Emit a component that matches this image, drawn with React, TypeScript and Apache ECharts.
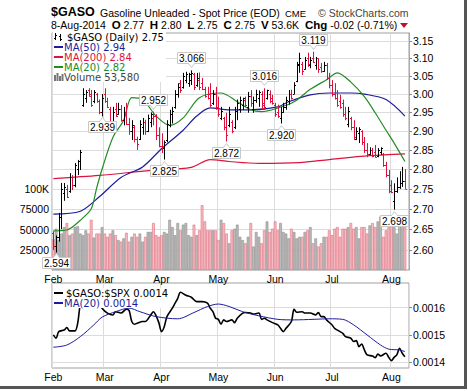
import React, { useEffect, useRef } from 'react';
import * as echarts from 'echarts';

// ---------- data ----------
const FIRST_DAY = '2014-02-03';
const LAST_DAY = '2014-08-08';
const HOLIDAYS = ['2014-02-17', '2014-04-18', '2014-05-26', '2014-07-04'];
const MONTH_NAMES = ['Jan', 'Feb', 'Mar', 'Apr', 'May', 'Jun', 'Jul', 'Aug', 'Sep', 'Oct', 'Nov', 'Dec'];

const opens = [
  2.64, 2.61, 2.63, 2.68, 2.74, 2.75, 2.745, 2.78, 2.76, 2.8,
  2.82, 2.97, 2.99, 3.01, 3.0, 2.98, 3.0, 2.98, 2.95, 3.0,
  2.98, 2.96, 2.925, 2.96, 2.945, 2.96, 2.93, 2.95, 2.92, 2.9,
  2.91, 2.88, 2.88, 2.91, 2.925, 2.9, 2.925, 2.935, 2.94, 2.89,
  2.86, 2.855, 2.875, 2.915, 2.945, 2.965, 3.0, 3.03, 3.02, 3.04,
  3.03, 3.04, 3.055, 3.025, 3.04, 3.03, 3.015, 3.0, 3.0, 2.975,
  3.0, 2.965, 2.935, 2.935, 2.91, 2.915, 2.925, 2.91, 2.955, 2.96,
  2.97, 2.985, 2.965, 2.995, 2.96, 2.985, 2.99, 3.0, 2.975, 2.99,
  3.0, 2.99, 2.97, 2.95, 2.935, 2.95, 2.965, 2.98, 3.0, 3.0,
  3.035, 3.08, 3.085, 3.07, 3.1, 3.08, 3.1, 3.08, 3.1, 3.075,
  3.065, 3.08, 3.045, 3.025, 3.0, 2.99, 2.98, 2.975, 2.945, 2.92,
  2.935, 2.91, 2.88, 2.895, 2.9, 2.87, 2.85, 2.84, 2.85, 2.845,
  2.835, 2.845, 2.84, 2.81, 2.785, 2.76, 2.72, 2.745, 2.755, 2.765,
  2.77,
];
const highs = [
  2.645, 2.635, 2.69, 2.765, 2.765, 2.76, 2.79, 2.785, 2.816, 2.824,
  2.85, 3.016, 3.011, 3.016, 3.011, 3.011, 3.003, 2.985, 3.0, 3.016,
  2.99, 2.965, 2.965, 2.976, 2.976, 2.97, 2.965, 2.976, 2.935, 2.929,
  2.916, 2.885, 2.929, 2.935, 2.93, 2.944, 2.95, 2.952, 2.945, 2.91,
  2.894, 2.875, 2.929, 2.957, 2.965, 3.011, 3.03, 3.039, 3.059, 3.062,
  3.059, 3.066, 3.059, 3.059, 3.06, 3.045, 3.02, 3.02, 3.03, 3.011,
  3.02, 2.993, 2.965, 2.938, 2.949, 2.965, 2.929, 2.965, 2.985, 2.993,
  2.99, 2.993, 3.006, 3.011, 2.993, 3.012, 3.01, 3.008, 3.016, 3.012,
  3.01, 2.998, 2.976, 2.971, 2.965, 2.976, 2.993, 3.011, 3.012, 3.033,
  3.09, 3.116, 3.09, 3.104, 3.116, 3.104, 3.119, 3.104, 3.1, 3.087,
  3.09, 3.087, 3.059, 3.039, 3.03, 3.011, 2.998, 2.985, 2.965, 2.965,
  2.938, 2.929, 2.91, 2.91, 2.902, 2.884, 2.868, 2.857, 2.855, 2.863,
  2.855, 2.857, 2.842, 2.819, 2.798, 2.772, 2.764, 2.779, 2.795, 2.806,
  2.8,
];
const lows = [
  2.6, 2.594, 2.62, 2.65, 2.72, 2.727, 2.74, 2.747, 2.754, 2.785,
  2.798, 2.965, 2.976, 2.993, 2.965, 2.975, 2.976, 2.945, 2.939, 2.976,
  2.962, 2.91, 2.921, 2.938, 2.944, 2.925, 2.915, 2.916, 2.89, 2.876,
  2.87, 2.85, 2.876, 2.89, 2.89, 2.897, 2.91, 2.915, 2.876, 2.857,
  2.842, 2.825, 2.87, 2.91, 2.92, 2.96, 2.99, 3.003, 3.015, 3.03,
  3.02, 3.025, 3.011, 3.02, 3.011, 3.011, 2.99, 2.985, 2.965, 2.97,
  2.957, 2.938, 2.929, 2.902, 2.872, 2.91, 2.894, 2.905, 2.929, 2.949,
  2.957, 2.965, 2.949, 2.965, 2.949, 2.976, 2.965, 2.957, 2.957, 2.985,
  2.975, 2.971, 2.938, 2.935, 2.92, 2.949, 2.957, 2.971, 2.985, 3.0,
  3.033, 3.059, 3.053, 3.068, 3.076, 3.072, 3.087, 3.068, 3.059, 3.059,
  3.062, 3.039, 3.016, 2.993, 2.985, 2.965, 2.96, 2.938, 2.929, 2.91,
  2.902, 2.876, 2.876, 2.868, 2.863, 2.842, 2.831, 2.837, 2.831, 2.83,
  2.831, 2.837, 2.806, 2.779, 2.739, 2.739, 2.698, 2.74, 2.75, 2.755,
  2.75,
];
const closes = [
  2.61, 2.63, 2.68, 2.75, 2.755, 2.73, 2.78, 2.76, 2.81, 2.82,
  2.845, 3.0, 3.005, 2.995, 2.97, 3.005, 2.98, 2.95, 2.99, 2.98,
  2.965, 2.92, 2.95, 2.94, 2.96, 2.93, 2.95, 2.92, 2.9, 2.915,
  2.88, 2.865, 2.92, 2.925, 2.9, 2.935, 2.945, 2.94, 2.89, 2.86,
  2.855, 2.87, 2.92, 2.945, 2.955, 3.0, 3.02, 3.01, 3.05, 3.055,
  3.057, 3.06, 3.02, 3.045, 3.02, 3.015, 2.995, 2.99, 2.97, 3.0,
  2.965, 2.945, 2.955, 2.91, 2.89, 2.945, 2.9, 2.955, 2.975, 2.985,
  2.988, 2.97, 2.995, 2.975, 2.985, 3.0, 3.005, 2.97, 2.965, 3.01,
  2.98, 2.975, 2.945, 2.94, 2.95, 2.965, 2.985, 3.0, 2.99, 3.025,
  3.085, 3.1, 3.065, 3.095, 3.085, 3.095, 3.09, 3.1, 3.07, 3.065,
  3.08, 3.045, 3.025, 3.0, 2.99, 2.97, 2.965, 2.945, 2.935, 2.955,
  2.91, 2.885, 2.9, 2.905, 2.87, 2.85, 2.84, 2.85, 2.835, 2.832,
  2.85, 2.855, 2.81, 2.785, 2.745, 2.742, 2.745, 2.755, 2.765, 2.77,
  2.75,
];
const volumes = [
  38000, 51000, 37000, 45000, 53000, 58000, 43000, 45000, 53000, 54000,
  45000, 43000, 49000, 45000, 62000, 40000, 45000, 45000, 53000, 45000,
  41000, 45000, 49000, 43000, 37000, 35000, 39000, 46000, 35000, 41000,
  45000, 41000, 45000, 35000, 41000, 47000, 47000, 58000, 43000, 41000,
  43000, 47000, 45000, 62000, 53000, 43000, 58000, 49000, 56000, 58000,
  43000, 41000, 56000, 43000, 49000, 80000, 60000, 49000, 49000, 49000,
  49000, 37000, 62000, 58000, 45000, 33000, 49000, 51000, 56000, 41000,
  37000, 33000, 41000, 58000, 29000, 47000, 41000, 33000, 49000, 60000,
  47000, 51000, 60000, 49000, 58000, 47000, 45000, 39000, 51000, 47000,
  39000, 41000, 41000, 47000, 49000, 53000, 33000, 39000, 29000, 33000,
  41000, 41000, 49000, 43000, 51000, 53000, 41000, 51000, 51000, 53000,
  58000, 51000, 53000, 39000, 53000, 53000, 45000, 55000, 58000, 53000,
  60000, 66000, 41000, 49000, 53000, 60000, 53000, 45000, 60000, 66000,
  53580,
];

const ma20Idx = [0, 5, 10, 14, 16, 18, 22, 26, 29, 33, 38, 43, 48, 54, 62, 68, 73, 77, 83, 89, 95, 101, 105, 110, 115, 119, 123, 126, 130];
const ma20Val = [2.646, 2.648, 2.672, 2.7, 2.752, 2.8, 2.883, 2.929, 2.99, 2.985, 2.94, 2.915, 2.935, 2.99, 3.003, 2.979, 2.957, 2.952, 2.962, 2.979, 3.013, 3.04, 3.059, 3.033, 2.993, 2.949, 2.902, 2.868, 2.82];
const ma50Idx = [0, 10, 17, 25, 33, 40, 48, 53, 58, 65, 73, 83, 87, 95, 102, 110, 115, 123, 130];
const ma50Val = [2.687, 2.694, 2.73, 2.779, 2.806, 2.853, 2.902, 2.94, 2.962, 2.957, 2.957, 2.965, 2.979, 2.998, 3.003, 3.003, 3.0, 2.985, 2.94];
const ma200Idx = [0, 17, 36, 51, 58, 65, 76, 91, 102, 117, 130];
const ma200Val = [2.776, 2.784, 2.797, 2.805, 2.825, 2.82, 2.815, 2.817, 2.825, 2.835, 2.84];

const ratioIdx = [0, 1, 2, 4, 5, 6, 8, 9, 10, 11, 12, 14, 16, 18, 20, 22, 23, 25, 27, 28, 29, 30, 31, 33, 34, 36, 37, 38, 39, 40, 41, 42, 44, 45, 46, 47, 49, 51, 53, 55, 57, 58, 59, 60, 61, 62, 63, 64, 66, 67, 68, 70, 71, 73, 74, 76, 77, 78, 79, 81, 83, 84, 85, 86, 88, 89, 90, 92, 93, 95, 97, 98, 99, 100, 101, 103, 104, 106, 107, 108, 110, 111, 112, 113, 114, 115, 116, 118, 119, 120, 121, 123, 124, 125, 126, 127, 128, 129, 130];
const ratioVal = [0.0015, 0.001488, 0.001512, 0.001518, 0.001527, 0.001515, 0.001515, 0.001543, 0.001616, 0.00164, 0.00165, 0.00166, 0.00163, 0.001598, 0.00158, 0.001573, 0.001585, 0.00158, 0.001594, 0.00159, 0.001549, 0.001539, 0.001543, 0.001549, 0.001549, 0.001573, 0.001585, 0.00157, 0.001545, 0.001512, 0.00153, 0.001567, 0.001598, 0.001616, 0.001634, 0.001656, 0.001645, 0.001638, 0.001622, 0.001622, 0.001616, 0.001598, 0.001585, 0.001561, 0.001557, 0.001539, 0.001555, 0.001549, 0.001555, 0.001545, 0.001561, 0.00158, 0.001582, 0.00158, 0.001576, 0.00158, 0.001557, 0.001561, 0.001555, 0.001545, 0.001537, 0.001524, 0.001512, 0.001524, 0.001549, 0.001594, 0.001583, 0.001585, 0.00158, 0.00158, 0.001573, 0.001582, 0.001567, 0.001567, 0.001555, 0.001537, 0.001524, 0.001512, 0.001506, 0.001494, 0.001488, 0.001476, 0.001479, 0.001457, 0.001467, 0.001445, 0.001427, 0.001423, 0.001417, 0.00143, 0.001423, 0.001433, 0.001418, 0.001406, 0.001418, 0.001427, 0.001451, 0.001433, 0.00142];
const ratioMaIdx = [0, 5, 10, 15, 18, 23, 28, 32, 38, 46, 52, 57, 61, 65, 70, 76, 83, 89, 96, 102, 107, 111, 116, 121, 124, 128, 130];
const ratioMaVal = [0.001455, 0.001463, 0.001494, 0.001537, 0.001565, 0.001585, 0.001598, 0.001585, 0.001567, 0.001559, 0.001582, 0.001604, 0.001613, 0.001604, 0.001585, 0.00157, 0.001557, 0.001555, 0.001557, 0.001559, 0.001557, 0.001537, 0.0015, 0.001463, 0.001448, 0.001445, 0.001439];

const annIdx = [1, 18, 37, 41, 51, 64, 78, 84, 96, 126];
const annVal = [2.594, 2.939, 2.952, 2.825, 3.066, 2.872, 3.016, 2.92, 3.119, 2.698];
const annSide = [-1, -1, 1, -1, 1, -1, 1, -1, 1, -1];

const priceTicks = [2.6, 2.65, 2.7, 2.75, 2.8, 2.85, 2.9, 2.95, 3.0, 3.05, 3.1, 3.15];
const ratioTicks = [0.0014, 0.0015, 0.0016];
const PRICE_MIN = 2.5526;
const PRICE_MAX = 3.173;
const VOL_MAX = 292600;
const RATIO_MIN = 0.001379;
const RATIO_MAX = 0.00169;

// ---------- helpers ----------
function tradingDays(): string[] {
  const out: string[] = [];
  const d = new Date(FIRST_DAY + 'T00:00:00Z');
  const end = new Date(LAST_DAY + 'T00:00:00Z');
  while (d.getTime() <= end.getTime()) {
    const wd = d.getUTCDay();
    const s = d.toISOString().slice(0, 10);
    if (wd !== 0 && wd !== 6 && HOLIDAYS.indexOf(s) < 0) out.push(s);
    d.setUTCDate(d.getUTCDate() + 1);
  }
  return out;
}

const FONT = '"Liberation Sans", Arial, sans-serif';
const VFONT = '"DejaVu Sans", Verdana, sans-serif';
const RED = '#e0103c';
const BLUE = '#1c1c9c';
const GREEN = '#228b22';
const MA200C = '#dc143c';

export default function App() {
  const ref = useRef<HTMLDivElement>(null);
  useEffect(() => {
    if (!ref.current) return;
    const chart = echarts.init(ref.current, undefined, { renderer: 'svg' });
    const dates = tradingDays();
    const cats = [...dates, ''];
    const monthStart = new Set<number>();
    dates.forEach((d, i) => {
      if (i === 0 || d.slice(5, 7) !== dates[i - 1].slice(5, 7)) monthStart.add(i);
    });
    const up = closes.map((c, i) => (i === 0 ? c >= opens[0] : c >= closes[i - 1]));
    const last = closes.length - 1;
    const L = Math.log;

    const xAxisBase = (gi: number) => ({
      type: 'category',
      gridIndex: gi,
      data: cats,
      boundaryGap: true,
      axisLine: { show: false },
      axisTick: { show: false },
      axisLabel: {
        interval: (i: number) => monthStart.has(i),
        formatter: (v: string) => (v ? MONTH_NAMES[parseInt(v.slice(5, 7), 10) - 1] : ''),
        fontSize: 10.5,
        fontFamily: FONT,
        color: '#000',
        margin: 3,
      },
      splitLine: {
        show: true,
        interval: (i: number) => monthStart.has(i),
        lineStyle: { color: '#dcdcdc', width: 1 },
      },
    });

    const lineSeries = (name: string, idx: number[], val: number[], color: string, xi: number, yi: number, width: number, log: boolean) => ({
      type: 'line',
      name,
      xAxisIndex: xi,
      yAxisIndex: yi,
      data: idx.map((k, j) => [k, log ? L(val[j]) : val[j]]),
      showSymbol: false,
      symbol: 'none',
      smooth: 0.3,
      lineStyle: { color, width },
      z: 3,
      silent: true,
    });

    const text = (x: number, y: number, t: string, font: string, fill = '#000', extra: any = {}) => ({
      type: 'text',
      x,
      y,
      z: 100,
      style: {
        text: t,
        font,
        fill,
        align: 'left',
        verticalAlign: 'middle',
        textAlign: 'left',
        textVerticalAlign: 'middle',
        ...extra,
      },
    });
    const LF = `10px ${VFONT}`;
    const rs = (fill: string, padLeft: number) => ({ font: LF, fill, lineHeight: 10, height: 10, padding: [0, 0, 0, padLeft] });

    const mainLegend = [
      `{k|$GASO (Daily) ${closes[last].toFixed(2)}}`,
      `{b|MA(50) ${ma50Val[ma50Val.length - 1].toFixed(2)}}`,
      `{r|MA(200) ${ma200Val[ma200Val.length - 1].toFixed(2)}}`,
      `{g|MA(20) ${ma20Val[ma20Val.length - 1].toFixed(2)}}`,
      `{v|Volume ${volumes[last].toLocaleString('en-US')}}`,
    ].join('\n');
    const lowerLegend = [
      `{k|$GASO:$SPX ${ratioVal[ratioVal.length - 1].toFixed(4)}}`,
      `{b|MA(20) ${ratioMaVal[ratioMaVal.length - 1].toFixed(4)}}`,
    ].join('\n');

    const option: any = {
      animation: false,
      backgroundColor: '#fff',
      grid: [
        { left: 52, top: 33, width: 357, height: 237, show: true, borderColor: '#a0a0a0', borderWidth: 1, backgroundColor: '#fff' },
        { left: 52, top: 283, width: 357, height: 85, show: true, borderColor: '#a0a0a0', borderWidth: 1, backgroundColor: '#fff' },
      ],
      xAxis: [xAxisBase(0), xAxisBase(1)],
      yAxis: [
        {
          type: 'value', gridIndex: 0, position: 'left', min: 0, max: VOL_MAX, interval: 25000,
          axisLine: { show: false }, axisTick: { show: false }, splitLine: { show: false },
          axisLabel: {
            formatter: (v: number) => (v > 0 && v <= 100000 ? (v === 100000 ? '100K' : String(v)) : ''),
            fontSize: 10.5, fontFamily: FONT, color: '#000', margin: 3,
          },
        },
        {
          type: 'value', gridIndex: 0, position: 'right', min: L(PRICE_MIN), max: L(PRICE_MAX),
          axisLine: { show: true, lineStyle: { color: '#a0a0a0', type: 'dotted' } },
          axisTick: { show: true, customValues: priceTicks.map(L), length: 3, lineStyle: { color: '#888' } },
          axisLabel: {
            customValues: priceTicks.map(L),
            formatter: (v: number) => Math.exp(v).toFixed(2),
            fontSize: 10.5, fontFamily: FONT, color: '#000', margin: 4,
          },
          splitLine: { show: true, lineStyle: { color: '#dcdcdc', width: 1 } },
        },
        {
          type: 'value', gridIndex: 1, position: 'right', min: RATIO_MIN, max: RATIO_MAX,
          axisLine: { show: false },
          axisTick: { show: true, customValues: ratioTicks, length: 3, lineStyle: { color: '#888' } },
          axisLabel: {
            customValues: ratioTicks,
            formatter: (v: number) => v.toFixed(4),
            fontSize: 10.5, fontFamily: FONT, color: '#000', margin: 4,
          },
          splitLine: { show: true, lineStyle: { color: '#dcdcdc', width: 1 } },
        },
      ],
      series: [
        {
          type: 'bar',
          name: 'Volume',
          xAxisIndex: 0,
          yAxisIndex: 0,
          barCategoryGap: '0%',
          silent: true,
          z: 1,
          data: volumes.map((v, i) => ({
            value: v,
            itemStyle: up[i]
              ? { color: '#bababa', borderColor: '#8e8e8e', borderWidth: 0.6 }
              : { color: '#f4bcc3', borderColor: '#e07080', borderWidth: 0.6 },
          })),
        },
        lineSeries('MA200', ma200Idx, ma200Val, MA200C, 0, 1, 1.2, true),
        lineSeries('MA50', ma50Idx, ma50Val, BLUE, 0, 1, 1.2, true),
        lineSeries('MA20', ma20Idx, ma20Val, GREEN, 0, 1, 1.2, true),
        {
          type: 'custom',
          name: 'OHLC',
          xAxisIndex: 0,
          yAxisIndex: 1,
          z: 4,
          silent: true,
          data: closes.map((c, i) => [i, L(opens[i]), L(highs[i]), L(lows[i]), L(c), up[i] ? 1 : 0]),
          encode: { x: 0, y: [1, 2, 3, 4] },
          renderItem: (params: any, api: any) => {
            const i = api.value(0);
            const pO = api.coord([i, api.value(1)]);
            const pH = api.coord([i, api.value(2)]);
            const pLo = api.coord([i, api.value(3)]);
            const pC = api.coord([i, api.value(4)]);
            const x = Math.round(pO[0]) + 0.5;
            const color = api.value(5) ? '#000' : RED;
            const yo = Math.round(pO[1]) + 0.5;
            const yc = Math.round(pC[1]) + 0.5;
            return {
              type: 'group',
              children: [
                { type: 'line', shape: { x1: x, y1: pH[1], x2: x, y2: pLo[1] }, style: { stroke: color, lineWidth: 1 } },
                { type: 'line', shape: { x1: x - 1.5, y1: yo, x2: x, y2: yo }, style: { stroke: color, lineWidth: 1 } },
                { type: 'line', shape: { x1: x, y1: yc, x2: x + 1.5, y2: yc }, style: { stroke: color, lineWidth: 1 } },
              ],
            };
          },
        },
        {
          type: 'custom',
          name: 'Annotations',
          xAxisIndex: 0,
          yAxisIndex: 1,
          z: 10,
          silent: true,
          clip: false,
          data: annIdx.map((k, j) => [k, L(annVal[j]), annSide[j]]),
          encode: { x: 0, y: 1 },
          renderItem: (params: any, api: any) => {
            const j = params.dataIndex;
            const p = api.coord([api.value(0), api.value(1)]);
            const side = api.value(2);
            const label = annVal[j].toFixed(3);
            const w = 28;
            const h = 11;
            const cx = Math.round(p[0]) + 0.5;
            const boxY = side > 0 ? Math.round(p[1]) - 7 - h + 0.5 : Math.round(p[1]) + 5 + 0.5;
            const tri = side > 0
              ? [[cx - 3, boxY + h], [cx + 3, boxY + h], [cx, boxY + h + 4]]
              : [[cx - 3, boxY], [cx + 3, boxY], [cx, boxY - 4]];
            return {
              type: 'group',
              children: [
                { type: 'rect', shape: { x: cx - w / 2, y: boxY, width: w, height: h }, style: { fill: '#fff', stroke: '#c8c8c8', lineWidth: 1 } },
                { type: 'polygon', shape: { points: tri }, style: { fill: '#fff', stroke: '#c8c8c8', lineWidth: 1 } },
                { type: 'line', shape: { x1: cx - 2.5, y1: side > 0 ? boxY + h : boxY, x2: cx + 2.5, y2: side > 0 ? boxY + h : boxY }, style: { stroke: '#fff', lineWidth: 1.2 } },
                {
                  type: 'text', x: cx, y: boxY + h / 2 + 0.5,
                  style: { text: label, font: `10px ${FONT}`, fill: '#000', align: 'center', verticalAlign: 'middle', textAlign: 'center', textVerticalAlign: 'middle' },
                },
              ],
            };
          },
        },
        lineSeries('$GASO:$SPX', ratioIdx, ratioVal, '#000', 1, 2, 1.6, false),
        lineSeries('MA(20) ratio', ratioMaIdx, ratioMaVal, BLUE, 1, 2, 1, false),
      ],
      graphic: [
        // header
        text(51, 12, '$GASO', `bold 12.5px ${FONT}`),
        text(100, 13, 'Gasoline Unleaded - Spot Price (EOD)', `10.5px ${FONT}`),
        text(285, 13, 'CME', `9.5px ${FONT}`),
        text(318, 13, '\u00a9 StockCharts.com', `10.5px ${FONT}`, '#444'),
        text(51, 25, `8-Aug-2014  {b|O} ${opens[last].toFixed(2)}  {b|H} ${highs[last].toFixed(2)}  {b|L} ${lows[last].toFixed(2)}  {b|C} ${closes[last].toFixed(2)}  {b|V} 53.6K  {b|Chg} -0.02 (-0.71%)`,
          `10.5px ${FONT}`, '#000', { rich: { b: { font: `bold 11.5px ${FONT}`, fill: '#000' } } }),
        { type: 'polygon', z: 100, shape: { points: [[400, 23], [408, 23], [404, 28]] }, style: { fill: '#c0102c' } },
        // main legend (one block, 10px rows)
        {
          type: 'text', x: 53, y: 32, z: 100,
          style: {
            text: mainLegend, font: LF, align: 'left', verticalAlign: 'top', textAlign: 'left', textVerticalAlign: 'top',
            backgroundColor: '#fff', padding: [0, 2, 0, 11], lineHeight: 10,
            rich: { k: rs('#000', 3), b: rs(BLUE, 0), r: rs(MA200C, 0), g: rs(GREEN, 0), v: rs('#444', 0) },
          },
        },
        { type: 'line', z: 101, shape: { x1: 55.5, y1: 33, x2: 55.5, y2: 40 }, style: { stroke: '#000', lineWidth: 1 } },
        { type: 'line', z: 101, shape: { x1: 54, y1: 38.5, x2: 55.5, y2: 38.5 }, style: { stroke: '#000', lineWidth: 1 } },
        { type: 'line', z: 101, shape: { x1: 55.5, y1: 35.5, x2: 57, y2: 35.5 }, style: { stroke: '#000', lineWidth: 1 } },
        { type: 'line', z: 101, shape: { x1: 60.5, y1: 34, x2: 60.5, y2: 41 }, style: { stroke: '#000', lineWidth: 1 } },
        { type: 'line', z: 101, shape: { x1: 59, y1: 36.5, x2: 60.5, y2: 36.5 }, style: { stroke: '#000', lineWidth: 1 } },
        { type: 'line', z: 101, shape: { x1: 60.5, y1: 39.5, x2: 62, y2: 39.5 }, style: { stroke: '#000', lineWidth: 1 } },
        { type: 'line', z: 101, shape: { x1: 54, y1: 47, x2: 63, y2: 47 }, style: { stroke: BLUE, lineWidth: 2 } },
        { type: 'line', z: 101, shape: { x1: 54, y1: 57, x2: 63, y2: 57 }, style: { stroke: MA200C, lineWidth: 2 } },
        { type: 'line', z: 101, shape: { x1: 54, y1: 67, x2: 63, y2: 67 }, style: { stroke: GREEN, lineWidth: 2 } },
        { type: 'rect', z: 101, shape: { x: 54, y: 75, width: 2, height: 6 }, style: { fill: '#777' } },
        { type: 'rect', z: 101, shape: { x: 56.5, y: 73, width: 2, height: 8 }, style: { fill: '#777' } },
        { type: 'rect', z: 101, shape: { x: 59, y: 76, width: 2, height: 5 }, style: { fill: '#777' } },
        { type: 'rect', z: 101, shape: { x: 61.5, y: 74, width: 2, height: 7 }, style: { fill: '#777' } },
        // lower legend
        {
          type: 'text', x: 53, y: 288, z: 100,
          style: {
            text: lowerLegend, font: LF, align: 'left', verticalAlign: 'top', textAlign: 'left', textVerticalAlign: 'top',
            backgroundColor: '#fff', padding: [0, 2, 0, 11], lineHeight: 10,
            rich: { k: rs('#000', 2), b: rs(BLUE, 0) },
          },
        },
        { type: 'line', z: 101, shape: { x1: 54, y1: 293, x2: 63, y2: 293 }, style: { stroke: '#000', lineWidth: 2 } },
        { type: 'line', z: 101, shape: { x1: 54, y1: 303, x2: 63, y2: 303 }, style: { stroke: BLUE, lineWidth: 2 } },
        // frame shadow
        { type: 'rect', z: 100, shape: { x: 464, y: 0, width: 3, height: 389 }, style: { fill: '#555' } },
        { type: 'rect', z: 100, shape: { x: 0, y: 386, width: 467, height: 3 }, style: { fill: '#555' } },
      ],
    };

    chart.setOption(option);
    return () => chart.dispose();
  }, []);

  return <div ref={ref} style={{ position: 'fixed', left: 0, top: 0, width: 468, height: 391, background: '#fff' }} />;
}
